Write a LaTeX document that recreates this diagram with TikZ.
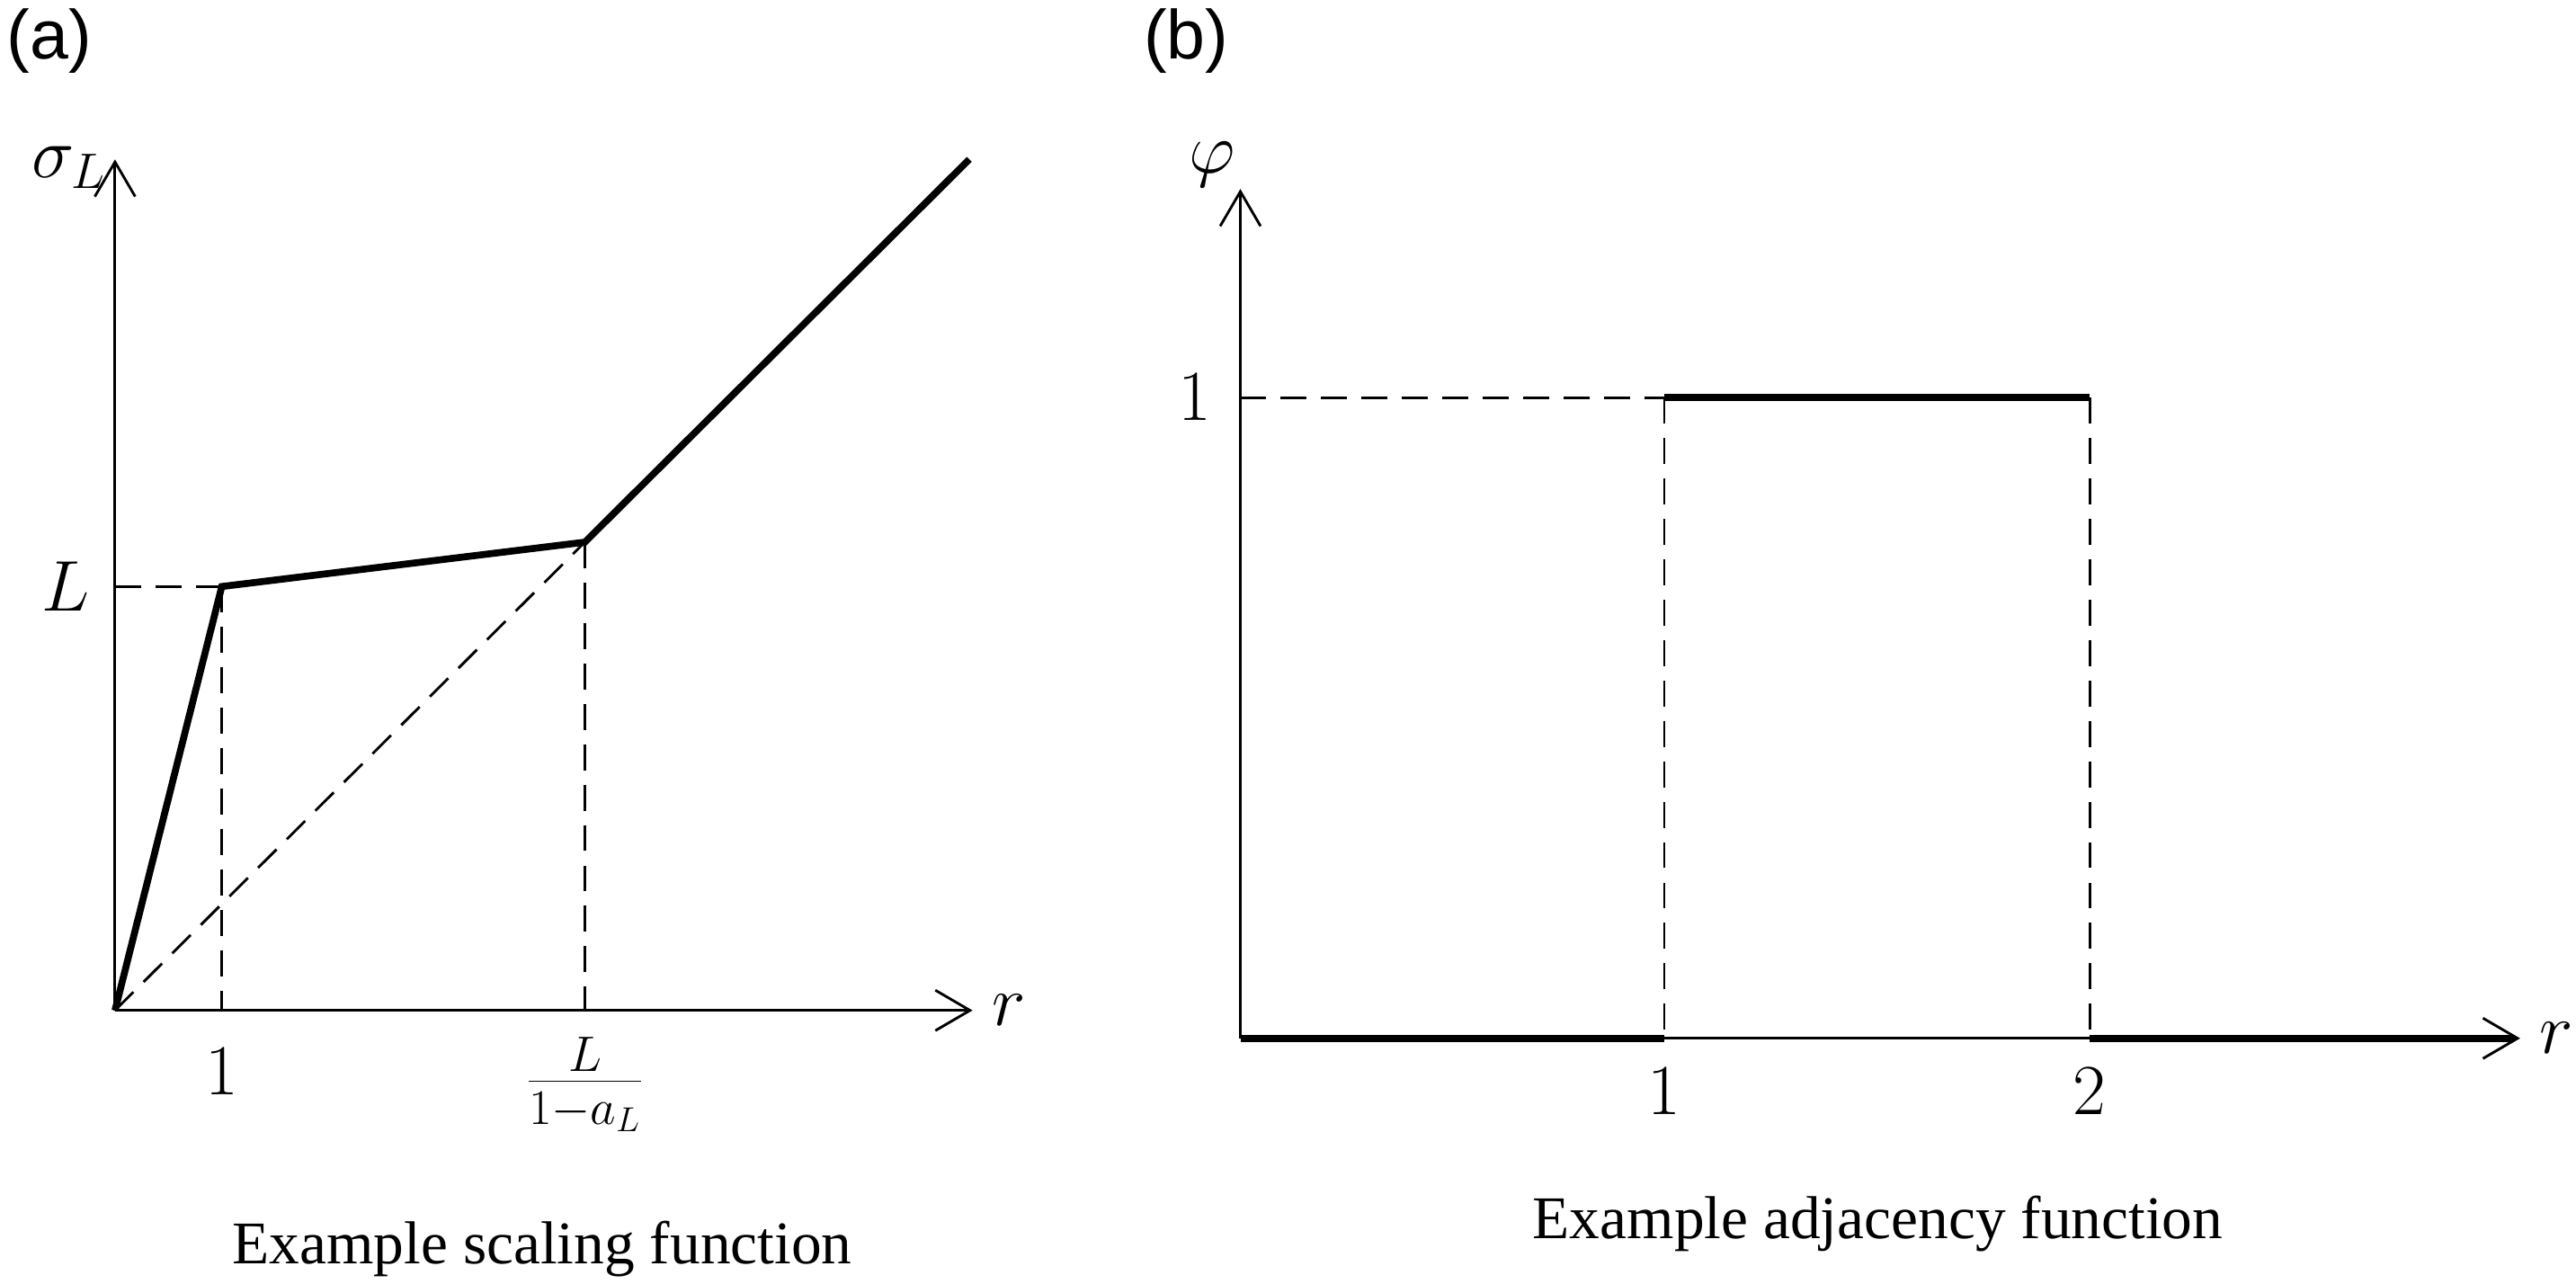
\documentclass[tikz,border=0pt]{standalone}
\usepackage{fontspec}
\setmainfont{Liberation Serif}
\newfontfamily\lab{Liberation Sans}
\usetikzlibrary{arrows.meta}
\begin{document}
\begin{tikzpicture}[x=0.02cm,y=-0.02cm,
  ax/.style={line width=0.9pt,-{Straight Barb[length=12pt,width=14pt,line width=0.9pt]}},
  thin/.style={line width=0.9pt},
  dsh/.style={line width=0.9pt,dash pattern=on 9pt off 5pt},
  thk/.style={line width=2.4pt},
  txt/.style={font=\fontsize{21}{25}\selectfont},
  mt/.style={font=\fontsize{24}{28}\selectfont}]
\useasboundingbox (0,0) rectangle (1568,781);
% panel a
\coordinate (oa) at (70,615);
\coordinate (ya) at (70,97);
\coordinate (xa) at (592,615);
\coordinate (p1) at (135,357);
\coordinate (p2) at (356,330);
\coordinate (p3) at (590,97);
\coordinate (la) at (70,357);
\coordinate (b1) at (135,615);
\coordinate (b2) at (356,615);
\draw[ax] (oa) -- (ya);
\draw[ax] (oa) -- (xa);
\draw[dsh] (la) -- (p1);
\draw[dsh] (p1) -- (b1);
\draw[dsh] (p2) -- (b2);
\draw[dsh] (oa) -- (p2);
\draw[thk,line join=miter] (oa) -- (p1) -- (p2) -- (p3);
\node[mt] (sl) at (42,102) {$\sigma_L$};
\node[mt] (lL) at (40,357) {$L$};
\node[mt] (ra) at (614,615) {$r$};
\node[mt] (one) at (135,652) {$1$};
\node[mt] (fr) at (356,660) {$\frac{L}{1-a_L}$};
\node[txt] (ca) at (330,760) {Example scaling function};
\node[font=\lab\fontsize{24}{28}\selectfont] (na) at (30,25) {(a)};
% panel b
\coordinate (ob) at (755,632);
\coordinate (yb) at (755,115);
\coordinate (xb) at (1534,632);
\coordinate (q1) at (1013,632);
\coordinate (q2) at (1013,242);
\coordinate (q3) at (1272,242);
\coordinate (q4) at (1272,632);
\coordinate (q5) at (1530,632);
\coordinate (lb) at (755,242);
\draw[ax] (ob) -- (yb);
\draw[ax] (ob) -- (xb);
\draw[dsh] (lb) -- (q2);
\draw[dsh] (q2) -- (q1);
\draw[dsh] (q3) -- (q4);
\draw[thk] (ob) -- (q1);
\draw[thk] (q2) -- (q3);
\draw[thk] (q4) -- (q5);
\node[mt] (ph) at (738,100) {$\varphi$};
\node[mt] (o1) at (727,242) {$1$};
\node[mt] (rb) at (1556,632) {$r$};
\node[mt] (t1) at (1013,664) {$1$};
\node[mt] (t2) at (1272,664) {$2$};
\node[txt] (cb) at (1143,745) {Example adjacency function};
\node[font=\lab\fontsize{24}{28}\selectfont] (nb) at (722,25) {(b)};
\end{tikzpicture}
\end{document}
